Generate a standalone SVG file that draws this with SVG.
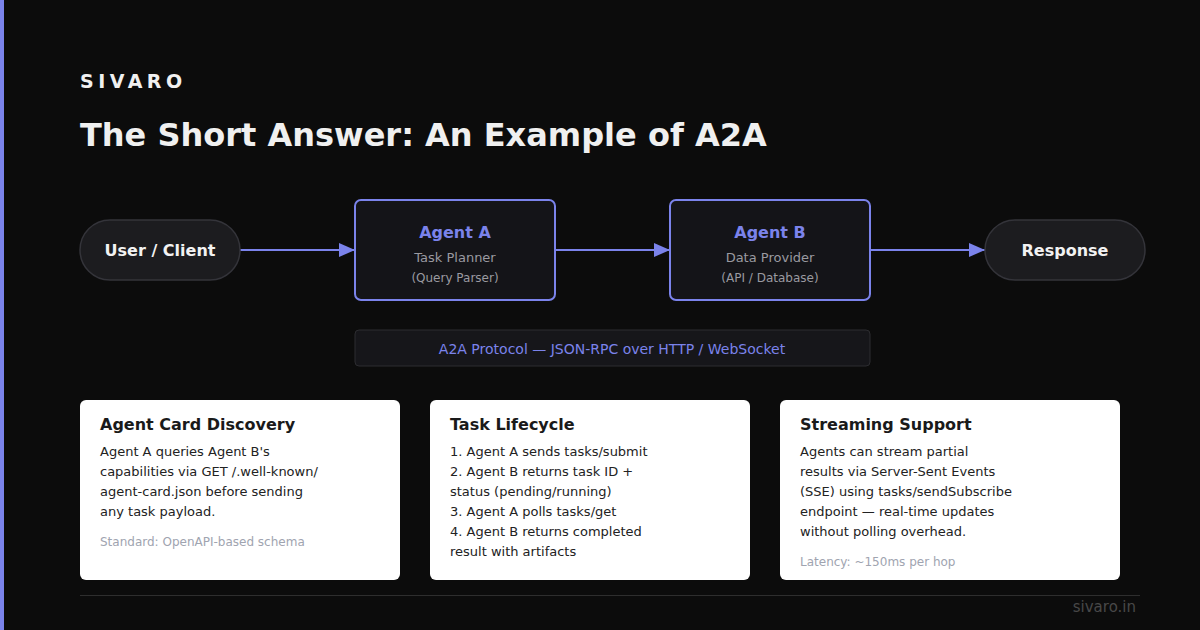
<svg xmlns="http://www.w3.org/2000/svg" width="1200" height="630" viewBox="0 0 1200 630">
<defs>
<style>
text{font-family:"DejaVu Sans",sans-serif}
.pill{fill:#1c1c1f;stroke:#34343a;stroke-width:1.5}
.pillt{font-size:16px;font-weight:bold;fill:#f2f2f2;text-anchor:middle}
.agent{fill:#141418;stroke:#7b83eb;stroke-width:2}
.an{font-size:16px;font-weight:bold;fill:#7b83eb;text-anchor:middle}
.as{font-size:13px;fill:#9a9aa0;text-anchor:middle}
.ap{font-size:12px;fill:#9a9aa0;text-anchor:middle}
.card{fill:#ffffff}
.ct{font-size:16px;font-weight:bold;fill:#1a1a1a}
.cb{font-size:13px;fill:#222222}
.cf{font-size:12px;fill:#a0a4b0}
.conn{stroke:#7b83eb;stroke-width:2;fill:none}
</style>
<marker id="ah" viewBox="0 0 16 14" refX="16" refY="7" markerWidth="16" markerHeight="14" markerUnits="userSpaceOnUse" orient="auto">
<path d="M0,0 L16,7 L0,14 z" fill="#7b83eb"/>
</marker>
</defs>
<rect x="0" y="0" width="1200" height="630" fill="#0c0c0c"/>
<rect x="0" y="0" width="4" height="630" fill="#7b83eb"/>
<text x="80" y="88" font-size="19" font-weight="bold" fill="#f0f0f0" letter-spacing="4.5">SIVARO</text>
<text x="80" y="146" font-size="32" font-weight="bold" fill="#f0f0f0">The Short Answer: An Example of A2A</text>

<g id="connectors">
<line class="conn" x1="240" y1="250" x2="355" y2="250" marker-end="url(#ah)"/>
<line class="conn" x1="555" y1="250" x2="670" y2="250" marker-end="url(#ah)"/>
<line class="conn" x1="870" y1="250" x2="985" y2="250" marker-end="url(#ah)"/>
</g>

<g id="user">
<rect class="pill" x="80" y="220" width="160" height="60" rx="30"/>
<text class="pillt" x="160" y="256">User / Client</text>
</g>
<g id="agentA">
<rect class="agent" x="355" y="200" width="200" height="100" rx="6"/>
<text class="an" x="455" y="238">Agent A</text>
<text class="as" x="455" y="262">Task Planner</text>
<text class="ap" x="455" y="282">(Query Parser)</text>
</g>
<g id="agentB">
<rect class="agent" x="670" y="200" width="200" height="100" rx="6"/>
<text class="an" x="770" y="238">Agent B</text>
<text class="as" x="770" y="262">Data Provider</text>
<text class="ap" x="770" y="282">(API / Database)</text>
</g>
<g id="response">
<rect class="pill" x="985" y="220" width="160" height="60" rx="30"/>
<text class="pillt" x="1065" y="256">Response</text>
</g>
<g id="protocol">
<rect x="355" y="330" width="515" height="36" rx="4" fill="#16161a" stroke="#2c2c30" stroke-width="1"/>
<text x="612" y="354" font-size="14" fill="#7b83eb" text-anchor="middle">A2A Protocol — JSON-RPC over HTTP / WebSocket</text>
</g>

<g id="card1">
<rect class="card" x="80" y="400" width="320" height="180" rx="6"/>
<text class="ct" x="100" y="430">Agent Card Discovery</text>
<text class="cb" x="100" y="456">Agent A queries Agent B's</text>
<text class="cb" x="100" y="476">capabilities via GET /.well-known/</text>
<text class="cb" x="100" y="496">agent-card.json before sending</text>
<text class="cb" x="100" y="516">any task payload.</text>
<text class="cf" x="100" y="546">Standard: OpenAPI-based schema</text>
</g>
<g id="card2">
<rect class="card" x="430" y="400" width="320" height="180" rx="6"/>
<text class="ct" x="450" y="430">Task Lifecycle</text>
<text class="cb" x="450" y="456">1. Agent A sends tasks/submit</text>
<text class="cb" x="450" y="476">2. Agent B returns task ID +</text>
<text class="cb" x="450" y="496">status (pending/running)</text>
<text class="cb" x="450" y="516">3. Agent A polls tasks/get</text>
<text class="cb" x="450" y="536">4. Agent B returns completed</text>
<text class="cb" x="450" y="556">result with artifacts</text>
</g>
<g id="card3">
<rect class="card" x="780" y="400" width="340" height="180" rx="6"/>
<text class="ct" x="800" y="430">Streaming Support</text>
<text class="cb" x="800" y="456">Agents can stream partial</text>
<text class="cb" x="800" y="476">results via Server-Sent Events</text>
<text class="cb" x="800" y="496">(SSE) using tasks/sendSubscribe</text>
<text class="cb" x="800" y="516">endpoint — real-time updates</text>
<text class="cb" x="800" y="536">without polling overhead.</text>
<text class="cf" x="800" y="566">Latency: ~150ms per hop</text>
</g>

<line x1="80" y1="595.5" x2="1140" y2="595.5" stroke="#2e2e2e" stroke-width="1"/>
<text x="1136" y="612" font-size="15" fill="#484848" text-anchor="end">sivaro.in</text>
</svg>
